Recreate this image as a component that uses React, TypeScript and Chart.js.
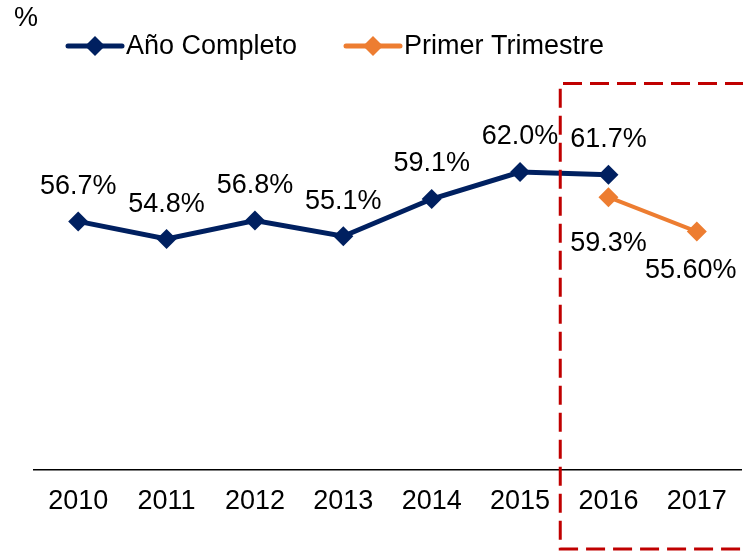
import React, { useEffect, useRef } from "react";
import { Chart, registerables } from "chart.js";

Chart.register(...registerables);

const categories = ["2010", "2011", "2012", "2013", "2014", "2015", "2016", "2017"];
const anoCompleto = [56.7, 54.8, 56.8, 55.1, 59.1, 62.0, 61.7, null];
const primerTrimestre = [null, null, null, null, null, null, 59.3, 55.6];
const anoLabels = ["56.7%", "54.8%", "56.8%", "55.1%", "59.1%", "62.0%", "61.7%", ""];
const trimLabels = ["", "", "", "", "", "", "59.3%", "55.60%"];

const BLUE = "#002060";
const ORANGE = "#ED7D31";
const FONT = "Liberation Sans, Arial, sans-serif";

const overlay = {
  id: "overlay",
  afterDraw(chart: any) {
    const ctx = chart.ctx;
    const xs = chart.scales.x;
    const ys = chart.scales.y;
    ctx.save();
    // data labels
    ctx.font = `27px ${FONT}`;
    ctx.fillStyle = "#000";
    ctx.textAlign = "center";
    ctx.textBaseline = "middle";
    const m0 = chart.getDatasetMeta(0);
    m0.data.forEach((pt: any, i: number) => {
      if (!anoLabels[i]) return;
      ctx.fillText(anoLabels[i], pt.x, pt.y - 35);
    });
    const m1 = chart.getDatasetMeta(1);
    m1.data.forEach((pt: any, i: number) => {
      if (!trimLabels[i]) return;
      const dx = i === 7 ? -6 : 0;
      ctx.fillText(trimLabels[i], pt.x + dx, pt.y + (i === 6 ? 46 : 39));
    });
    // percent sign
    ctx.textAlign = "left";
    ctx.fillText("%", 14, 19);
    // legend
    const drawLegend = (x: number, color: string, text: string, lw: number) => {
      const y = 46;
      ctx.strokeStyle = color;
      ctx.lineWidth = lw;
      ctx.lineCap = "round";
      ctx.beginPath();
      ctx.moveTo(x, y);
      ctx.lineTo(x + 54, y);
      ctx.stroke();
      ctx.fillStyle = color;
      ctx.beginPath();
      const r = 10;
      ctx.moveTo(x + 27, y - r);
      ctx.lineTo(x + 27 + r, y);
      ctx.lineTo(x + 27, y + r);
      ctx.lineTo(x + 27 - r, y);
      ctx.closePath();
      ctx.fill();
      ctx.fillStyle = "#000";
      ctx.fillText(text, x + 58, y + 1);
    };
    drawLegend(68, BLUE, "Año Completo", 5);
    drawLegend(346, ORANGE, "Primer Trimestre", 5);
    // red dashed rectangle
    const left = (xs.getPixelForValue(5) + xs.getPixelForValue(6)) / 2 - 4;
    const top = ys.getPixelForValue(71.5);
    const bottom = 549;
    const right = chart.width + 20;
    ctx.strokeStyle = "#C00000";
    ctx.lineWidth = 3;
    ctx.lineCap = "butt";
    ctx.setLineDash([19, 8]);
    ctx.beginPath();
    ctx.moveTo(right, top);
    ctx.lineTo(left, top);
    ctx.lineTo(left, bottom);
    ctx.lineTo(right, bottom);
    ctx.stroke();
    ctx.restore();
  },
};

export default function App() {
  const ref = useRef<HTMLCanvasElement>(null);
  useEffect(() => {
    if (!ref.current) return;
    const chart = new Chart(ref.current, {
      type: "line",
      data: {
        labels: categories,
        datasets: [
          {
            label: "Año Completo",
            data: anoCompleto,
            borderColor: BLUE,
            backgroundColor: BLUE,
            borderWidth: 5,
            pointStyle: "rectRot",
            pointRadius: 10,
            pointHoverRadius: 10,
            pointBorderWidth: 0,
            tension: 0,
          },
          {
            label: "Primer Trimestre",
            data: primerTrimestre,
            borderColor: ORANGE,
            backgroundColor: ORANGE,
            borderWidth: 4,
            pointStyle: "rectRot",
            pointRadius: 10,
            pointHoverRadius: 10,
            pointBorderWidth: 0,
            tension: 0,
          },
        ],
      },
      options: {
        animation: false,
        responsive: false,
        maintainAspectRatio: false,
        layout: { padding: { left: 34, right: 0, top: 4, bottom: 21 } },
        plugins: { legend: { display: false }, tooltip: { enabled: false } },
        scales: {
          x: {
            offset: true,
            grid: { display: false },
            border: { display: true, color: "#000", width: 1.5 },
            ticks: { color: "#000", font: { family: FONT, size: 27 }, padding: 7 },
            afterFit: (s: any) => {
              s.height = 60;
              s.paddingLeft = 0;
              s.paddingRight = 0;
            },
          },
          y: {
            display: false,
            min: 30,
            max: 79.4,
            ticks: { display: false },
            afterFit: (s: any) => {
              s.paddingTop = 0;
              s.paddingBottom = 0;
            },
          },
        },
      },
      plugins: [overlay],
    });
    return () => chart.destroy();
  }, []);
  return (
    <div style={{ position: "fixed", left: 0, top: 0, width: 743, height: 551, overflow: "hidden", background: "#fff" }}>
      <canvas ref={ref} width={751} height={551} style={{ width: 751, height: 551, display: "block" }} />
    </div>
  );
}
